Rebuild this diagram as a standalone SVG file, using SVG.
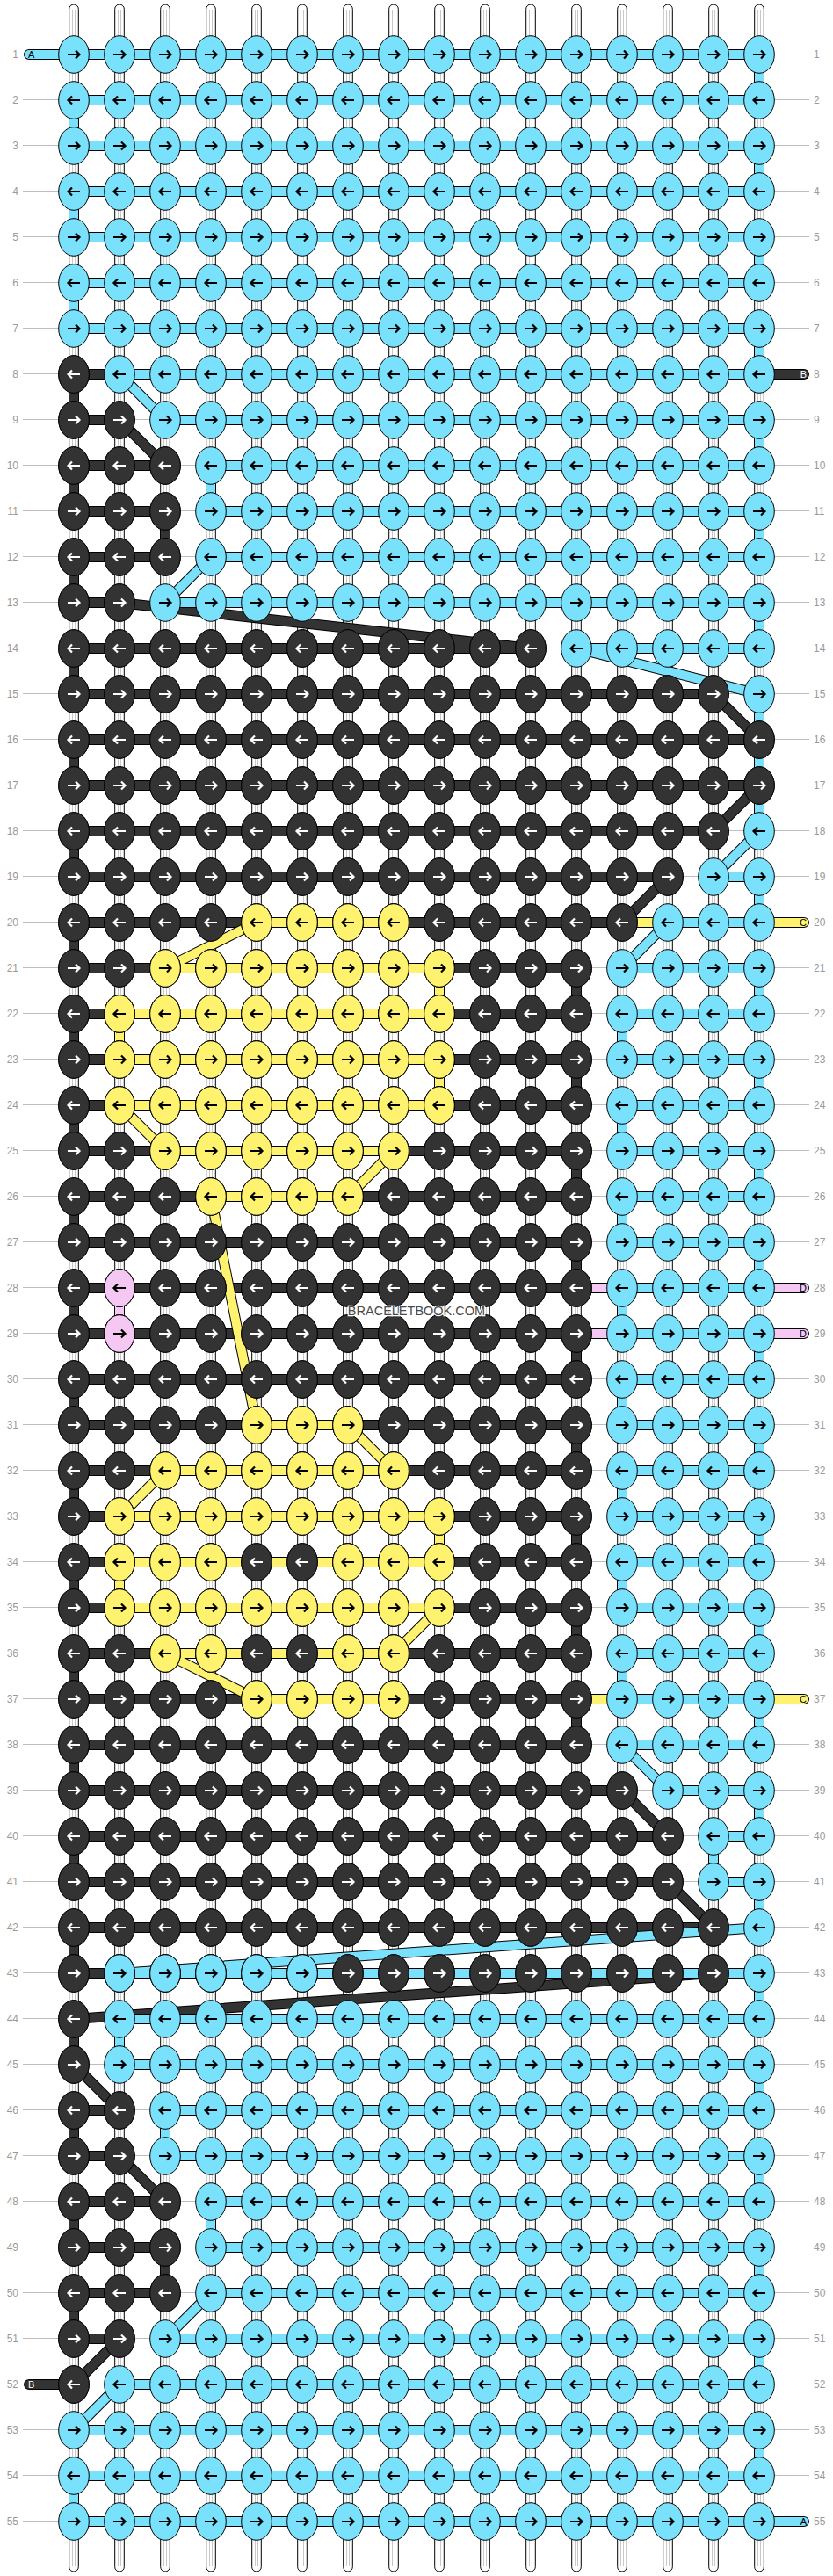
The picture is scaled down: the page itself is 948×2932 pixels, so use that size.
<svg xmlns="http://www.w3.org/2000/svg" width="948" height="2932" viewBox="0 0 948 2932">
<style>
.o{stroke:#000;stroke-width:12}
.cb{stroke:#79e1fc;stroke-width:10}
.cd{stroke:#333;stroke-width:10}
.cy{stroke:#fff26e;stroke-width:10}
.cp{stroke:#f4c8f2;stroke-width:10}
.n{font-family:"Liberation Sans",Arial,sans-serif;font-size:12px;fill:#9a9a9a}
.t{font-family:"Liberation Sans",Arial,sans-serif;font-size:11px}
.wm{font-family:"Liberation Sans",Arial,sans-serif;font-size:14.5px;fill:#4a4a4a;stroke:#fff;stroke-width:2.5px;paint-order:stroke;text-anchor:middle}
</style>
<defs>
<g id="t"><ellipse cx="26" cy="26" rx="17.3" ry="21.3" stroke="#000"/><ellipse cx="26" cy="78" rx="17.3" ry="21.3" stroke="#000"/><path d="M19 26h13.5M28 21.5l4.5 4.5-4.5 4.5M33 78H19.5M24 73.5l-4.5 4.5 4.5 4.5" fill="none" stroke="currentColor" stroke-width="2.2"/></g>
<pattern id="pB" patternUnits="userSpaceOnUse" x="58" y="36" width="52" height="104"><use href="#t" fill="#79e1fc" color="#000"/></pattern>
<pattern id="pD" patternUnits="userSpaceOnUse" x="58" y="36" width="52" height="104"><use href="#t" fill="#333" color="#fff"/></pattern>
<pattern id="pY" patternUnits="userSpaceOnUse" x="58" y="36" width="52" height="104"><use href="#t" fill="#fff26e" color="#000"/></pattern>
<pattern id="pP" patternUnits="userSpaceOnUse" x="58" y="36" width="52" height="104"><use href="#t" fill="#f4c8f2" color="#000"/></pattern>
<pattern id="rl" patternUnits="userSpaceOnUse" x="0" y="36" width="52" height="52"><rect y="25" width="52" height="1" fill="#bdbdbd"/></pattern>
<g id="tb"><rect x="-5.3" y="5" width="10.6" height="2922" rx="5.3" fill="#fff" stroke="#000"/><path d="M-1.5 11V2921M1.5 11V2921" stroke="#c8c8c8"/></g>
<path id="lD" d="M915 426H84"/>
<path id="lY" d="M915 1050H448M448 1934H915"/>
<path id="lP" d="M915 1466H136M136 1518H915"/>
<path id="sD" d="M84 426V478H136L188 530H84V582H188V634H84V686H136L604 738H84V790H812L864 842H84V894H864L812 946H84V998H760L708 1050H84V1102H656V1154H84V1206H656V1258H84V1310H656V1362H84V1414H656V1466H84V1518H656V1570H84V1622H656V1674H84V1726H656V1778H84V1830H656V1882H84V1934H656V1986H84V2038H708L760 2090H84V2142H760L812 2194H84V2246H812L84 2298V2350L136 2402H84V2454H136L188 2506H84V2558H188V2610H84V2662H136L84 2714H33"/>
<path id="sA" d="M33 62H864V114H84V166H864V218H84V270H864V322H84V374H864V426H136L188 478H864V530H240V582H864V634H240L188 686H864V738H656L864 790V946L812 998H864V1050H760L708 1102H864V1154H708V1206H864V1258H708V1310H864V1362H708V1414H864V1466H708V1518H864V1570H708V1622H864V1674H708V1726H864V1778H708V1830H864V1882H708V1934H864V1986H708L760 2038H864V2090H812V2142H864V2194L136 2246H864V2298H136V2350H864V2402H188V2454H864V2506H240V2558H864V2610H240L188 2662H864V2714H136L84 2766H864V2818H84V2870H915"/>
<path id="sY" d="M448 1050H292L188 1102H500V1154H136V1206H500V1258H136L188 1310H448L396 1362H240L292 1622H396L448 1674H188L136 1726H500V1778H136V1830H500L448 1882H188L292 1934H448"/>
<path id="sP" d="M136 1466V1518"/>
</defs>
<rect width="948" height="2932" fill="#fff"/>
<rect id="rowlines" x="26" y="36" width="895" height="2860" fill="url(#rl)"/>
<g id="warp">
<use href="#tb" x="84"/><use href="#tb" x="136"/><use href="#tb" x="188"/><use href="#tb" x="240"/><use href="#tb" x="292"/><use href="#tb" x="344"/><use href="#tb" x="396"/><use href="#tb" x="448"/><use href="#tb" x="500"/><use href="#tb" x="552"/><use href="#tb" x="604"/><use href="#tb" x="656"/><use href="#tb" x="708"/><use href="#tb" x="760"/><use href="#tb" x="812"/><use href="#tb" x="864"/>
</g>
<g id="strings" fill="none" stroke-linecap="round" stroke-linejoin="round">
<use href="#lD" class="o"/><use href="#lD" class="cd"/>
<use href="#lY" class="o"/><use href="#lY" class="cy"/>
<use href="#lP" class="o"/><use href="#lP" class="cp"/>
<use href="#sD" class="o"/><use href="#sD" class="cd"/>
<use href="#sA" class="o"/><use href="#sA" class="cb"/>
<use href="#sY" class="o"/><use href="#sY" class="cy"/>
<use href="#sP" class="o"/><use href="#sP" class="cp"/>
</g>
<g id="knots">
<rect x="58" y="36" width="832" height="2860" fill="url(#pB)"/>
<g fill="url(#pD)">
<rect x="58" y="400" width="52" height="52"/>
<rect x="58" y="452" width="104" height="52"/>
<rect x="58" y="504" width="156" height="156"/>
<rect x="58" y="660" width="104" height="52"/>
<rect x="58" y="712" width="572" height="52"/>
<rect x="58" y="764" width="780" height="52"/>
<rect x="58" y="816" width="832" height="104"/>
<rect x="58" y="920" width="780" height="52"/>
<rect x="58" y="972" width="728" height="52"/>
<rect x="58" y="1024" width="676" height="52"/>
<rect x="58" y="1076" width="624" height="936"/>
<rect x="58" y="2012" width="676" height="52"/>
<rect x="58" y="2064" width="728" height="104"/>
<rect x="58" y="2168" width="780" height="104"/>
<rect x="58" y="2272" width="52" height="104"/>
<rect x="58" y="2376" width="104" height="104"/>
<rect x="58" y="2480" width="156" height="156"/>
<rect x="58" y="2636" width="104" height="52"/>
<rect x="58" y="2688" width="52" height="52"/>
</g>
<rect x="110" y="2220" width="260" height="52" fill="url(#pB)"/>
<g fill="url(#pY)">
<rect x="266" y="1024" width="208" height="52"/>
<rect x="162" y="1076" width="364" height="52"/>
<rect x="110" y="1128" width="416" height="156"/>
<rect x="162" y="1284" width="312" height="52"/>
<rect x="214" y="1336" width="208" height="52"/>
<rect x="266" y="1596" width="156" height="52"/>
<rect x="162" y="1648" width="312" height="52"/>
<rect x="110" y="1700" width="416" height="52"/>
<rect x="110" y="1752" width="156" height="52"/>
<rect x="370" y="1752" width="156" height="52"/>
<rect x="110" y="1804" width="416" height="52"/>
<rect x="162" y="1856" width="104" height="52"/>
<rect x="370" y="1856" width="104" height="52"/>
<rect x="266" y="1908" width="208" height="52"/>
</g>
<rect x="110" y="1440" width="52" height="104" fill="url(#pP)"/>
</g>
<g id="tabs" class="t">
<text x="32" y="66">A</text>
<text x="918" y="430" text-anchor="end" fill="#fff">B</text>
<text x="918" y="1054" text-anchor="end">C</text>
<text x="918" y="1470" text-anchor="end">D</text>
<text x="918" y="1522" text-anchor="end">D</text>
<text x="918" y="1938" text-anchor="end">C</text>
<text x="32" y="2718" fill="#fff">B</text>
<text x="918" y="2874" text-anchor="end">A</text>
</g>
<text class="wm" x="474" y="1497">BRACELETBOOK.COM</text>
<text id="numsL" class="n" text-anchor="end"><tspan x="21" y="66">1</tspan><tspan x="21" y="118">2</tspan><tspan x="21" y="170">3</tspan><tspan x="21" y="222">4</tspan><tspan x="21" y="274">5</tspan><tspan x="21" y="326">6</tspan><tspan x="21" y="378">7</tspan><tspan x="21" y="430">8</tspan><tspan x="21" y="482">9</tspan><tspan x="21" y="534">10</tspan><tspan x="21" y="586">11</tspan><tspan x="21" y="638">12</tspan><tspan x="21" y="690">13</tspan><tspan x="21" y="742">14</tspan><tspan x="21" y="794">15</tspan><tspan x="21" y="846">16</tspan><tspan x="21" y="898">17</tspan><tspan x="21" y="950">18</tspan><tspan x="21" y="1002">19</tspan><tspan x="21" y="1054">20</tspan><tspan x="21" y="1106">21</tspan><tspan x="21" y="1158">22</tspan><tspan x="21" y="1210">23</tspan><tspan x="21" y="1262">24</tspan><tspan x="21" y="1314">25</tspan><tspan x="21" y="1366">26</tspan><tspan x="21" y="1418">27</tspan><tspan x="21" y="1470">28</tspan><tspan x="21" y="1522">29</tspan><tspan x="21" y="1574">30</tspan><tspan x="21" y="1626">31</tspan><tspan x="21" y="1678">32</tspan><tspan x="21" y="1730">33</tspan><tspan x="21" y="1782">34</tspan><tspan x="21" y="1834">35</tspan><tspan x="21" y="1886">36</tspan><tspan x="21" y="1938">37</tspan><tspan x="21" y="1990">38</tspan><tspan x="21" y="2042">39</tspan><tspan x="21" y="2094">40</tspan><tspan x="21" y="2146">41</tspan><tspan x="21" y="2198">42</tspan><tspan x="21" y="2250">43</tspan><tspan x="21" y="2302">44</tspan><tspan x="21" y="2354">45</tspan><tspan x="21" y="2406">46</tspan><tspan x="21" y="2458">47</tspan><tspan x="21" y="2510">48</tspan><tspan x="21" y="2562">49</tspan><tspan x="21" y="2614">50</tspan><tspan x="21" y="2666">51</tspan><tspan x="21" y="2718">52</tspan><tspan x="21" y="2770">53</tspan><tspan x="21" y="2822">54</tspan><tspan x="21" y="2874">55</tspan></text>
<text id="numsR" class="n"><tspan x="926" y="66">1</tspan><tspan x="926" y="118">2</tspan><tspan x="926" y="170">3</tspan><tspan x="926" y="222">4</tspan><tspan x="926" y="274">5</tspan><tspan x="926" y="326">6</tspan><tspan x="926" y="378">7</tspan><tspan x="926" y="430">8</tspan><tspan x="926" y="482">9</tspan><tspan x="926" y="534">10</tspan><tspan x="926" y="586">11</tspan><tspan x="926" y="638">12</tspan><tspan x="926" y="690">13</tspan><tspan x="926" y="742">14</tspan><tspan x="926" y="794">15</tspan><tspan x="926" y="846">16</tspan><tspan x="926" y="898">17</tspan><tspan x="926" y="950">18</tspan><tspan x="926" y="1002">19</tspan><tspan x="926" y="1054">20</tspan><tspan x="926" y="1106">21</tspan><tspan x="926" y="1158">22</tspan><tspan x="926" y="1210">23</tspan><tspan x="926" y="1262">24</tspan><tspan x="926" y="1314">25</tspan><tspan x="926" y="1366">26</tspan><tspan x="926" y="1418">27</tspan><tspan x="926" y="1470">28</tspan><tspan x="926" y="1522">29</tspan><tspan x="926" y="1574">30</tspan><tspan x="926" y="1626">31</tspan><tspan x="926" y="1678">32</tspan><tspan x="926" y="1730">33</tspan><tspan x="926" y="1782">34</tspan><tspan x="926" y="1834">35</tspan><tspan x="926" y="1886">36</tspan><tspan x="926" y="1938">37</tspan><tspan x="926" y="1990">38</tspan><tspan x="926" y="2042">39</tspan><tspan x="926" y="2094">40</tspan><tspan x="926" y="2146">41</tspan><tspan x="926" y="2198">42</tspan><tspan x="926" y="2250">43</tspan><tspan x="926" y="2302">44</tspan><tspan x="926" y="2354">45</tspan><tspan x="926" y="2406">46</tspan><tspan x="926" y="2458">47</tspan><tspan x="926" y="2510">48</tspan><tspan x="926" y="2562">49</tspan><tspan x="926" y="2614">50</tspan><tspan x="926" y="2666">51</tspan><tspan x="926" y="2718">52</tspan><tspan x="926" y="2770">53</tspan><tspan x="926" y="2822">54</tspan><tspan x="926" y="2874">55</tspan></text>
</svg>
